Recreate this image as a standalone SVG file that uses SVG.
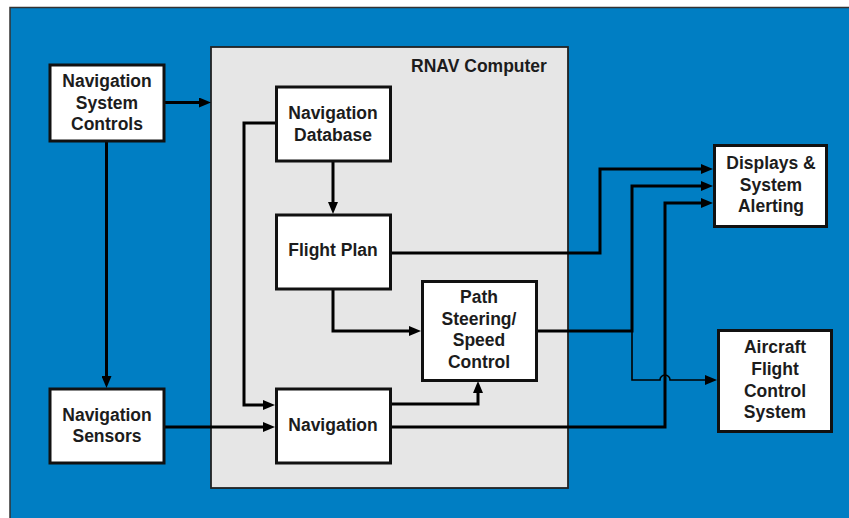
<svg xmlns="http://www.w3.org/2000/svg" width="849" height="518" viewBox="0 0 849 518">
<style>
.node rect{fill:#fff;stroke:#111;stroke-width:3}
text{font-family:"Liberation Sans",Arial,sans-serif;font-weight:bold;font-size:17.5px;fill:#1c1c1c;text-anchor:middle}
.c{fill:none;stroke:#000;stroke-width:3}
.thin{stroke-width:1.6}
</style>
<defs>
<marker id="ah" markerUnits="userSpaceOnUse" viewBox="0 0 12 10" refX="6" refY="5" markerWidth="12" markerHeight="10" orient="auto">
<path d="M0,0 L12,5 L0,10 Z" fill="#000"/>
</marker>
</defs>
<rect x="0" y="0" width="849" height="518" fill="#fff"/>
<rect x="10" y="7.5" width="845" height="520" fill="#007EC3" stroke="#333" stroke-width="1.5"/>
<g id="rnav">
<rect x="211" y="47" width="357" height="441" fill="#E6E6E6" stroke="#222" stroke-width="1.8"/>
<text x="479" y="72">RNAV Computer</text>
</g>
<g id="connectors">
<path class="c" d="M164,102.5 H205" marker-end="url(#ah)"/>
<path class="c" d="M106.5,141 V382" marker-end="url(#ah)"/>
<path class="c" d="M333,161 V208" stroke-width="4" marker-end="url(#ah)"/>
<path class="c" d="M276,123 H244 V405 H269" marker-end="url(#ah)"/>
<path class="c" d="M164,427 H269" marker-end="url(#ah)"/>
<path class="c" d="M333,289 V331 H415" marker-end="url(#ah)"/>
<path class="c" d="M391,404 H478 V387" marker-end="url(#ah)"/>
<path class="c" d="M391,253 H600 V169 H707" marker-end="url(#ah)"/>
<path class="c" d="M537,331 H632 V186 H707" marker-end="url(#ah)"/>
<path class="c" d="M391,427 H665 V203 H707" marker-end="url(#ah)"/>
<path class="c thin" d="M632,331 V380 H660 A5,5 0 0 1 670,380 H711" marker-end="url(#ah)"/>
</g>
<g id="nav-system-controls" class="node">
<rect x="50" y="65" width="114" height="76"/>
<text x="107" y="87">Navigation</text>
<text x="107" y="109">System</text>
<text x="107" y="130">Controls</text>
</g>
<g id="nav-sensors" class="node">
<rect x="50" y="389" width="114" height="74"/>
<text x="107" y="421">Navigation</text>
<text x="107" y="442">Sensors</text>
</g>
<g id="nav-database" class="node">
<rect x="276.5" y="87" width="114" height="74"/>
<text x="333" y="119">Navigation</text>
<text x="333" y="141">Database</text>
</g>
<g id="flight-plan" class="node">
<rect x="276.5" y="215" width="114" height="74"/>
<text x="333" y="256">Flight Plan</text>
</g>
<g id="path-steering" class="node">
<rect x="422.5" y="281.5" width="114" height="99"/>
<text x="479" y="303">Path</text>
<text x="479" y="325">Steering/</text>
<text x="479" y="346">Speed</text>
<text x="479" y="368">Control</text>
</g>
<g id="navigation" class="node">
<rect x="276.5" y="389" width="114" height="74"/>
<text x="333" y="431">Navigation</text>
</g>
<g id="displays" class="node">
<rect x="714.5" y="145.5" width="112" height="81"/>
<text x="771" y="169">Displays &amp;</text>
<text x="771" y="191">System</text>
<text x="771" y="212">Alerting</text>
</g>
<g id="afcs" class="node">
<rect x="718.5" y="330.5" width="113" height="101"/>
<text x="775" y="353">Aircraft</text>
<text x="775" y="375">Flight</text>
<text x="775" y="397">Control</text>
<text x="775" y="418">System</text>
</g>
</svg>
